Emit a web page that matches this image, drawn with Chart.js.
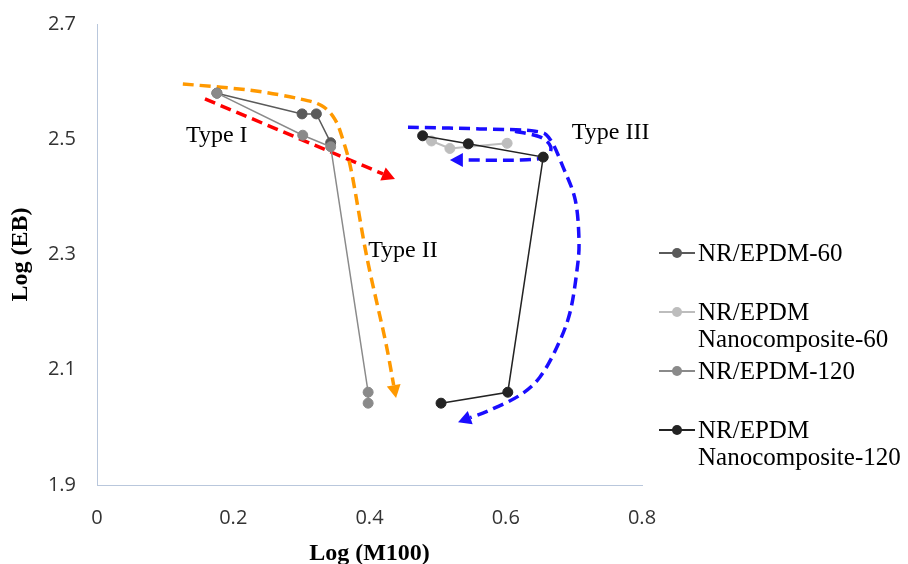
<!DOCTYPE html>
<html>
<head>
<meta charset="utf-8">
<script src="https://cdn.jsdelivr.net/npm/chart.js@4.4.1/dist/chart.umd.min.js"></script>
<style>
  html, body { margin: 0; padding: 0; background: #ffffff; }
  #wrap { width: 908px; height: 564px; position: relative; }
</style>
</head>
<body>
<div id="wrap"><canvas id="c" width="908" height="564"></canvas></div>
<script>
// ---------- data ----------
const seriesNames = [
  ['NR/EPDM-60'],
  ['NR/EPDM', 'Nanocomposite-60'],
  ['NR/EPDM-120'],
  ['NR/EPDM', 'Nanocomposite-120']
];
const nr60X = [0.176, 0.301, 0.322, 0.343];
const nr60Y = [2.580, 2.544, 2.544, 2.494];
const nano60X = [0.491, 0.518, 0.602];
const nano60Y = [2.497, 2.484, 2.493];
const nr120X = [0.176, 0.302, 0.343, 0.398, 0.398];
const nr120Y = [2.580, 2.507, 2.487, 2.061, 2.042];
const nano120X = [0.478, 0.545, 0.655, 0.603, 0.505];
const nano120Y = [2.506, 2.492, 2.469, 2.061, 2.042];

const xTicks = [0, 0.2, 0.4, 0.6, 0.8];
const yTicks = [1.9, 2.1, 2.3, 2.5, 2.7];

// annotation paths, in data units
const redArrow = [[0.1585, 2.570], [0.4374, 2.431]];
const orangeArrow = [[0.126, 2.596], [0.225, 2.585], [0.298, 2.570], [0.330, 2.558], [0.349, 2.535],
  [0.361, 2.499], [0.374, 2.441], [0.396, 2.296], [0.423, 2.152], [0.439, 2.051]];
const blueArrowInner = [[0.6136, 2.514], [0.650, 2.504], [0.666, 2.487], [0.658, 2.469], [0.621, 2.464], [0.518, 2.464]];
const blueArrowOuter = [[0.4565, 2.521], [0.562, 2.518], [0.643, 2.514], [0.665, 2.500], [0.684, 2.452],
  [0.702, 2.395], [0.7075, 2.325], [0.7046, 2.273], [0.694, 2.198], [0.675, 2.139], [0.650, 2.087],
  [0.621, 2.056], [0.577, 2.030], [0.530, 2.009]];
const typeLabels = [
  { text: 'Type I', x: 0.1306, y: 2.4952 },
  { text: 'Type II', x: 0.398, y: 2.2957 },
  { text: 'Type III', x: 0.697, y: 2.5004 }
];

const toPts = (xs, ys) => xs.map((v, i) => ({ x: v, y: ys[i] }));

const colors = ['#5a5a5a', '#bdbdbd', '#8a8a8a', '#232323'];
const series = [
  toPts(nr60X, nr60Y),
  toPts(nano60X, nano60Y),
  toPts(nr120X, nr120Y),
  toPts(nano120X, nano120Y)
];

const datasets = series.map((d, i) => ({
  label: seriesNames[i].join(' '),
  data: d,
  showLine: true,
  borderColor: colors[i],
  backgroundColor: colors[i],
  pointBackgroundColor: colors[i],
  pointBorderColor: colors[i],
  pointBorderWidth: 1,
  pointRadius: 5,
  borderWidth: i === 1 ? 2 : 1.5,
  order: 3 - i
}));

function smoothPath(ctx, pts) {
  ctx.moveTo(pts[0][0], pts[0][1]);
  if (pts.length === 2) { ctx.lineTo(pts[1][0], pts[1][1]); return; }
  for (let i = 0; i < pts.length - 1; i++) {
    const p0 = pts[i - 1] || pts[i], p1 = pts[i], p2 = pts[i + 1], p3 = pts[i + 2] || pts[i + 1];
    const c1 = [p1[0] + (p2[0] - p0[0]) / 6, p1[1] + (p2[1] - p0[1]) / 6];
    const c2 = [p2[0] - (p3[0] - p1[0]) / 6, p2[1] - (p3[1] - p1[1]) / 6];
    ctx.bezierCurveTo(c1[0], c1[1], c2[0], c2[1], p2[0], p2[1]);
  }
}

function drawArrow(chart, path, color) {
  const { ctx, scales: { x, y } } = chart;
  const pts = path.map(p => [x.getPixelForValue(p[0]), y.getPixelForValue(p[1])]);
  const n = pts.length;
  const tip = pts[n - 1], prev = pts[n - 2];
  const dx = tip[0] - prev[0], dy = tip[1] - prev[1];
  const len = Math.hypot(dx, dy);
  const ux = dx / len, uy = dy / len;
  const L = 13, W = 7;
  const base = [tip[0] - ux * L, tip[1] - uy * L];
  const linePts = pts.slice(0, n - 1).concat([base]);
  ctx.save();
  ctx.strokeStyle = color;
  ctx.lineWidth = 3.5;
  ctx.setLineDash([11, 6]);
  ctx.beginPath();
  smoothPath(ctx, linePts);
  ctx.stroke();
  ctx.setLineDash([]);
  ctx.fillStyle = color;
  ctx.beginPath();
  ctx.moveTo(tip[0], tip[1]);
  ctx.lineTo(base[0] - uy * W, base[1] + ux * W);
  ctx.lineTo(base[0] + uy * W, base[1] - ux * W);
  ctx.closePath();
  ctx.fill();
  ctx.restore();
}

const annotPlugin = {
  id: 'annot',
  beforeDatasetsDraw(chart) {
    drawArrow(chart, redArrow, '#ff0000');
    drawArrow(chart, orangeArrow, '#ff9900');
    drawArrow(chart, blueArrowInner, '#1a0dff');
    drawArrow(chart, blueArrowOuter, '#1a0dff');
  },
  afterDatasetsDraw(chart) {
    const { ctx, scales: { x, y } } = chart;
    ctx.save();
    ctx.fillStyle = '#000000';
    ctx.font = '24px "Liberation Serif", "Times New Roman", serif';
    ctx.textAlign = 'left';
    ctx.textBaseline = 'alphabetic';
    typeLabels.forEach(t => ctx.fillText(t.text, x.getPixelForValue(t.x), y.getPixelForValue(t.y)));
    ctx.restore();
  },
  afterDraw(chart) {
    const ctx = chart.ctx;
    const ds = chart.data.datasets;
    ctx.save();
    ctx.font = '25px "Liberation Serif", "Times New Roman", serif';
    ctx.textAlign = 'left';
    ctx.textBaseline = 'middle';
    seriesNames.forEach((lines, i) => {
      const cy = 253 + i * 59;
      ctx.strokeStyle = ds[i].borderColor;
      ctx.lineWidth = 2;
      ctx.beginPath();
      ctx.moveTo(659, cy);
      ctx.lineTo(695, cy);
      ctx.stroke();
      ctx.fillStyle = ds[i].pointBackgroundColor;
      ctx.beginPath();
      ctx.arc(677, cy, 5, 0, Math.PI * 2);
      ctx.fill();
      ctx.fillStyle = '#000000';
      lines.forEach((t, k) => ctx.fillText(t, 698, cy + 1 + k * 27));
    });
    ctx.restore();
  }
};

const axisColor = '#b9c7dc';
new Chart(document.getElementById('c'), {
  type: 'scatter',
  data: { datasets },
  options: {
    responsive: false,
    animation: false,
    devicePixelRatio: 1,
    layout: { padding: { left: 0, top: 24, right: 266, bottom: 0 } },
    plugins: { legend: { display: false }, tooltip: { enabled: false } },
    scales: {
      x: {
        type: 'linear', min: 0, max: 0.8,
        afterBuildTicks: s => { s.ticks = xTicks.map(v => ({ value: v })); },
        afterFit: s => { s.height = 79; },
        grid: { display: false, drawTicks: false },
        border: { display: true, color: axisColor, width: 1 },
        ticks: {
          padding: 21, color: '#333333',
          font: { family: '"Open Sans", "Liberation Sans", sans-serif', size: 20 },
          callback: v => (v === 0 ? '0' : v.toFixed(1))
        },
        title: {
          display: true, text: 'Log (M100)', color: '#000000',
          font: { family: '"Liberation Serif", "Times New Roman", serif', size: 24, weight: 'bold', lineHeight: 1 },
          padding: { top: 0, bottom: -2 }
        }
      },
      y: {
        type: 'linear', min: 1.9, max: 2.7,
        afterBuildTicks: s => { s.ticks = yTicks.map(v => ({ value: v })); },
        afterFit: s => { s.width = 97; s.paddingTop = 0; s.paddingBottom = 0; },
        grid: { display: false, drawTicks: false },
        border: { display: true, color: axisColor, width: 1 },
        ticks: {
          padding: 21, color: '#333333',
          font: { family: '"Open Sans", "Liberation Sans", sans-serif', size: 20 },
          callback: v => v.toFixed(1)
        },
        title: {
          display: true, text: 'Log (EB)', color: '#000000',
          font: { family: '"Liberation Serif", "Times New Roman", serif', size: 24, weight: 'bold', lineHeight: 1.2 },
          padding: { top: 6, bottom: 0 }
        }
      }
    }
  },
  plugins: [annotPlugin]
});
</script>
</body>
</html>
